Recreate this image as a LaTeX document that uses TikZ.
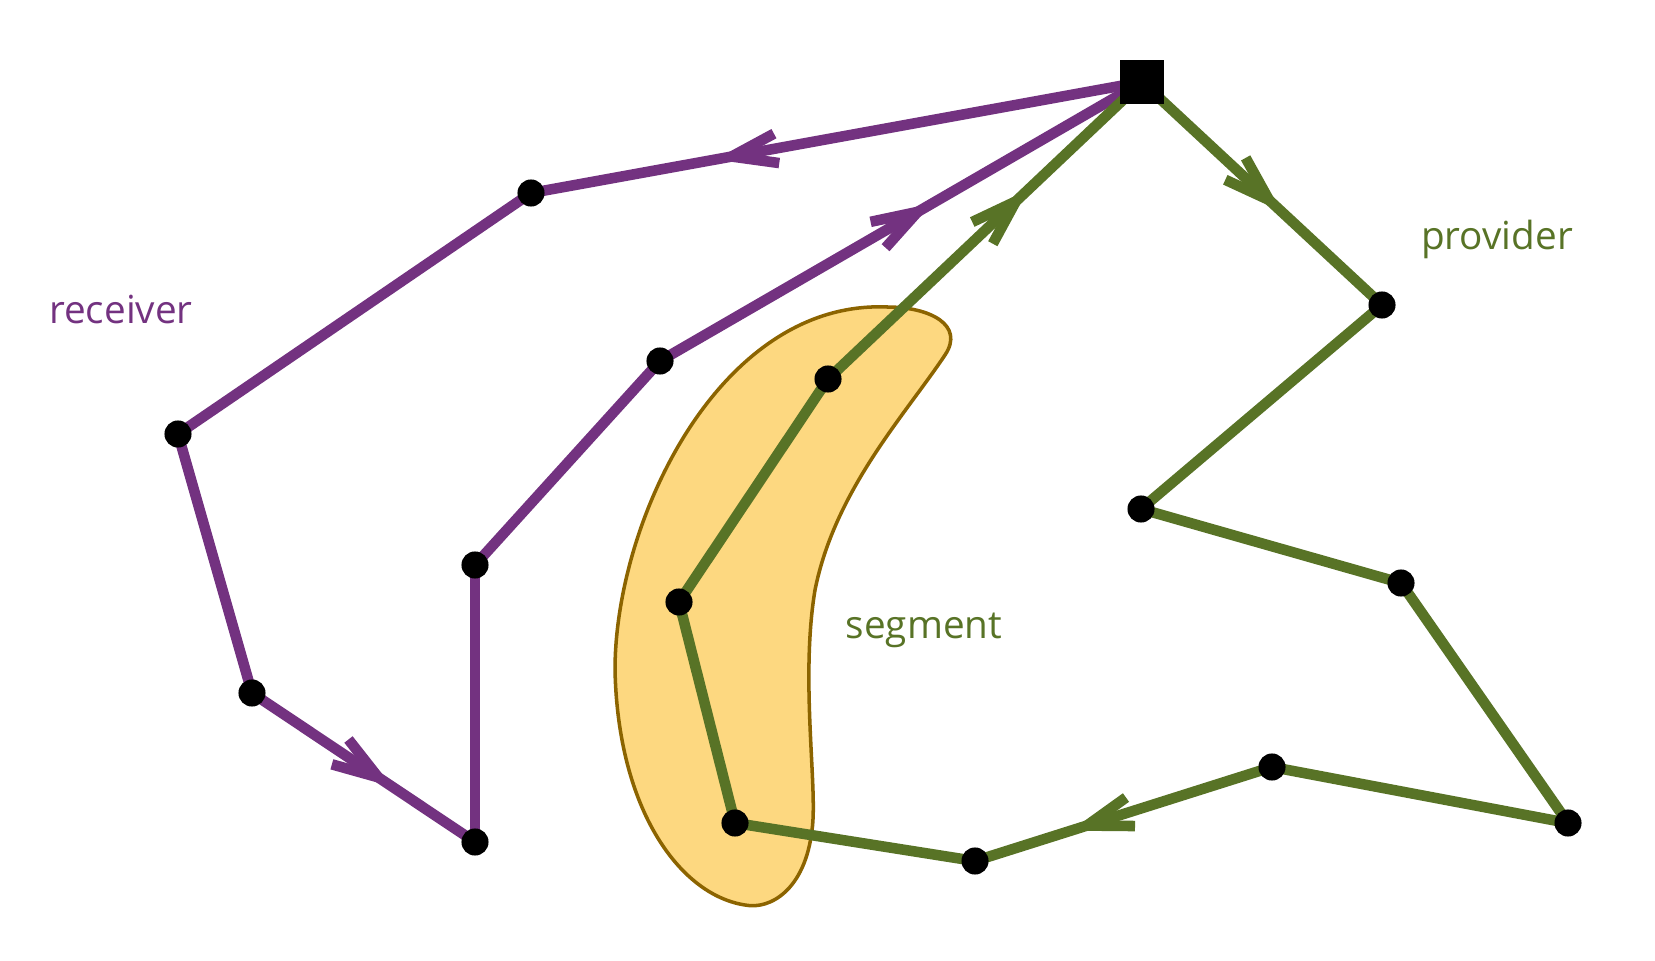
\documentclass[tikz,border=0pt]{standalone}
\usepackage{fontspec}
\setmainfont{Open Sans}
\usetikzlibrary{arrows.meta, decorations.markings, backgrounds}

\definecolor{recvpurple}{RGB}{115,50,128}
\definecolor{provgreen}{RGB}{88,115,38}
\definecolor{segfill}{RGB}{253,216,128}
\definecolor{segdraw}{RGB}{140,100,0}

\tikzset{
    dot/.style={circle, fill=black, inner sep=0pt, minimum size=7.7pt},
    source/.style={rectangle, fill=black, inner sep=0pt, minimum size=12.5pt},
    recv/.style={draw=recvpurple, line width=3pt},
    prov/.style={draw=provgreen, line width=3pt},
    flow/.style={postaction={decorate}, decoration={markings,
        mark=at position #1 with {\arrow{Straight Barb[length=13pt, width=8.5pt]}}}},
    lbl/.style={font=\fontsize{11pt}{13pt}\selectfont}
}

\begin{document}
\begin{tikzpicture}[x=0.01cm, y=-0.01cm]
    \useasboundingbox (0,0) rectangle (1655,961);

    % Source
    \node[source] (src) at (1142,82) {};

    % Receiver points
    \node[dot] (r1) at (531,193) {};
    \node[dot] (r2) at (178,434) {};
    \node[dot] (r3) at (252,693) {};
    \node[dot] (r4) at (475,842) {};
    \node[dot] (r5) at (475,565) {};
    \node[dot] (r6) at (660,361) {};

    % Provider points
    \node[dot] (p1) at (1382,305) {};
    \node[dot] (p2) at (1141,509) {};
    \node[dot] (p3) at (1401,583) {};
    \node[dot] (p4) at (1568,823) {};
    \node[dot] (p5) at (1272,767) {};
    \node[dot] (p6) at (975,861) {};
    \node[dot] (p7) at (735,823) {};
    \node[dot] (p8) at (679,602) {};
    \node[dot] (p9) at (828,379) {};

    % Labels
    \node[lbl, text=recvpurple] (recvlabel) at (121,309) {receiver};
    \node[lbl, text=provgreen] (provlabel) at (1497,239) {provider};
    \node[lbl, text=provgreen] (seglabel) at (924,630) {segment};

    \begin{scope}[on background layer]
        % Segment blob
        \draw[segdraw, fill=segfill, line width=1pt]
            (887,307) .. controls (930,307) and (965,325) .. (945,355)
            .. controls (905,415) and (835,490) .. (815,590)
            .. controls (800,680) and (818,790) .. (812,830)
            .. controls (805,890) and (770,910) .. (745,905)
            .. controls (680,895) and (618,810) .. (615,670)
            .. controls (615,520) and (720,300) .. (887,307) -- cycle;

        % Receiver path
        \draw[recv, flow=0.699] (src.center) -- (r1.center);
        \foreach \a/\b in {r1/r2, r2/r3, r4/r5, r5/r6} {
            \draw[recv] (\a.center) -- (\b.center);
        }
        \draw[recv, flow=0.63] (r3.center) -- (r4.center);
        \draw[recv, flow=0.565] (r6.center) -- (src.center);

        % Provider path
        \draw[prov, flow=0.582] (src.center) -- (p1.center);
        \foreach \a/\b in {p1/p2, p2/p3, p3/p4, p4/p5, p6/p7, p7/p8, p8/p9} {
            \draw[prov] (\a.center) -- (\b.center);
        }
        \draw[prov, flow=0.678] (p5.center) -- (p6.center);
        \draw[prov, flow=0.64] (p9.center) -- (src.center);
    \end{scope}
\end{tikzpicture}
\end{document}
